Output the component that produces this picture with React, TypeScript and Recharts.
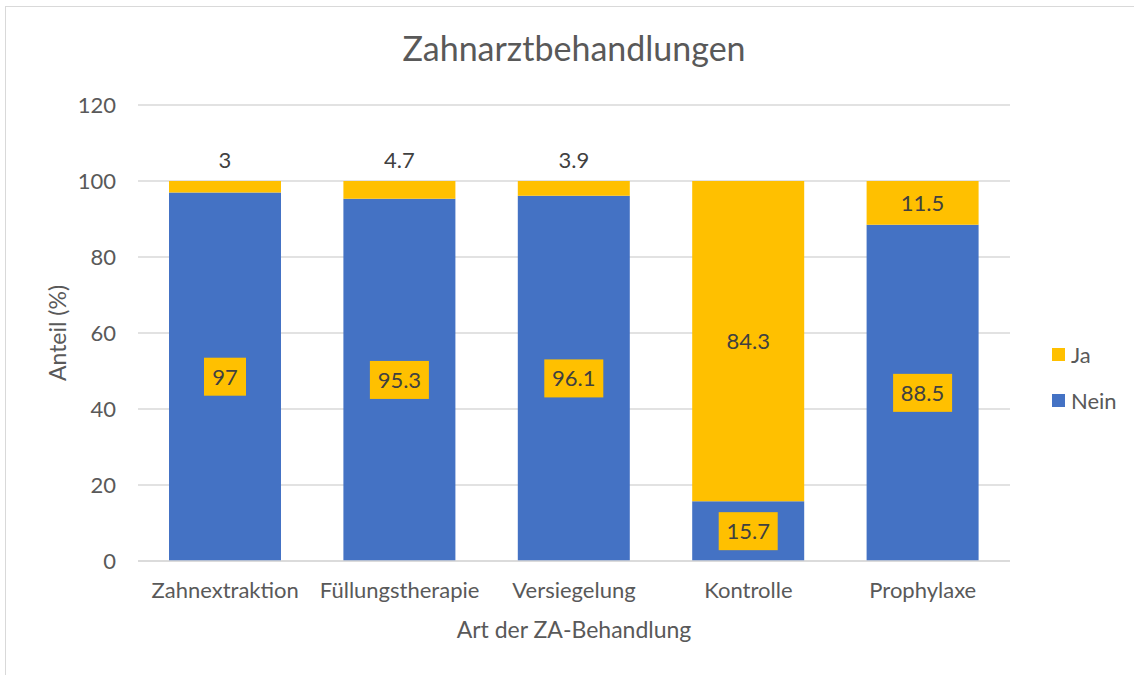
import { BarChart, Bar, XAxis, YAxis, CartesianGrid, LabelList } from "recharts";

const categories = ["Zahnextraktion", "Füllungstherapie", "Versiegelung", "Kontrolle", "Prophylaxe"];
const neinValues = [97, 95.3, 96.1, 15.7, 88.5];
const jaValues = [3, 4.7, 3.9, 84.3, 11.5];
const yTicks = [0, 20, 40, 60, 80, 100, 120];

const BLUE = "#4472C4";
const YELLOW = "#FFC000";
const TEXT = "#595959";
const FONT = "Lato, 'Open Sans', sans-serif";

const data = categories.map((name, i) => ({ name, Nein: neinValues[i], Ja: jaValues[i] }));

// Nein labels sit in a yellow box in the middle of the blue segment
function NeinLabel(props: any) {
  const { x, y, width, height, value } = props;
  const s = String(value);
  const digits = s.replace(".", "").length;
  const w = 18 + digits * 12 + (s.includes(".") ? 5 : 0);
  const cx = x + width / 2;
  const cy = y + height / 2;
  return (
    <g>
      <rect x={cx - w / 2} y={cy - 19} width={w} height={38} fill={YELLOW} />
      <text x={cx} y={cy} dy="0.36em" textAnchor="middle" fontSize={22} fill="#404040" fontFamily={FONT}>
        {s}
      </text>
    </g>
  );
}

// small Ja values go above the bar, bigger ones in the middle
function JaLabel(props: any) {
  const { x, y, width, height, value } = props;
  const cx = x + width / 2;
  const cy = value < 5 ? y - 21 : y + height / 2;
  return (
    <text x={cx} y={cy} dy="0.36em" textAnchor="middle" fontSize={22} fill="#404040" fontFamily={FONT}>
      {value}
    </text>
  );
}

const legendItems = [
  { label: "Ja", color: YELLOW },
  { label: "Nein", color: BLUE },
];

export default function App() {
  return (
    <div style={{ position: "absolute", left: 0, top: 0, width: 1134, height: 675, overflow: "hidden", background: "#fff" }}>
      <div style={{ position: "absolute", left: 5, top: 6, width: 1160, height: 700, border: "1px solid #d9d9d9" }} />
      <div
        style={{
          position: "absolute",
          left: 138,
          width: 872,
          top: 27,
          textAlign: "center",
          fontFamily: FONT,
          fontSize: 34,
          color: TEXT,
        }}
      >
        Zahnarztbehandlungen
      </div>
      <div style={{ position: "absolute", left: 0, top: 0 }}>
        <BarChart
          width={1134}
          height={675}
          data={data}
          margin={{ top: 105, right: 124, bottom: 0, left: 58 }}
          barSize={112}
        >
          <CartesianGrid vertical={false} stroke="#d9d9d9" strokeWidth={1.5} />
          <XAxis
            dataKey="name"
            interval={0}
            height={114}
            tickLine={false}
            axisLine={{ stroke: "#d9d9d9", strokeWidth: 1.5 }}
            tickSize={0}
            tickMargin={21}
            tick={{ fill: TEXT, fontSize: 22, fontFamily: FONT }}
            label={{ value: "Art der ZA-Behandlung", position: "insideBottom", offset: 37, fill: TEXT, fontSize: 23, fontFamily: FONT }}
          />
          <YAxis
            width={80}
            domain={[0, 120]}
            ticks={yTicks}
            axisLine={false}
            tickLine={false}
            tickSize={0}
            tickMargin={22}
            tick={{ fill: TEXT, fontSize: 22, fontFamily: FONT }}
            label={{
              value: "Anteil (%)",
              angle: -90,
              position: "insideLeft",
              offset: 0,
              fill: TEXT,
              fontSize: 23,
              fontFamily: FONT,
              style: { textAnchor: "middle" },
            }}
          />
          <Bar dataKey="Nein" stackId="a" fill={BLUE} isAnimationActive={false}>
            <LabelList dataKey="Nein" content={<NeinLabel />} />
          </Bar>
          <Bar dataKey="Ja" stackId="a" fill={YELLOW} isAnimationActive={false}>
            <LabelList dataKey="Ja" content={<JaLabel />} />
          </Bar>
        </BarChart>
      </div>
      <div style={{ position: "absolute", left: 1052, top: 331, fontFamily: FONT }}>
        {legendItems.map((it) => (
          <div key={it.label} style={{ display: "flex", alignItems: "center", height: 46 }}>
            <span style={{ width: 13, height: 13, background: it.color, display: "inline-block", marginRight: 6 }} />
            <span style={{ fontSize: 22, color: TEXT }}>{it.label}</span>
          </div>
        ))}
      </div>
    </div>
  );
}
